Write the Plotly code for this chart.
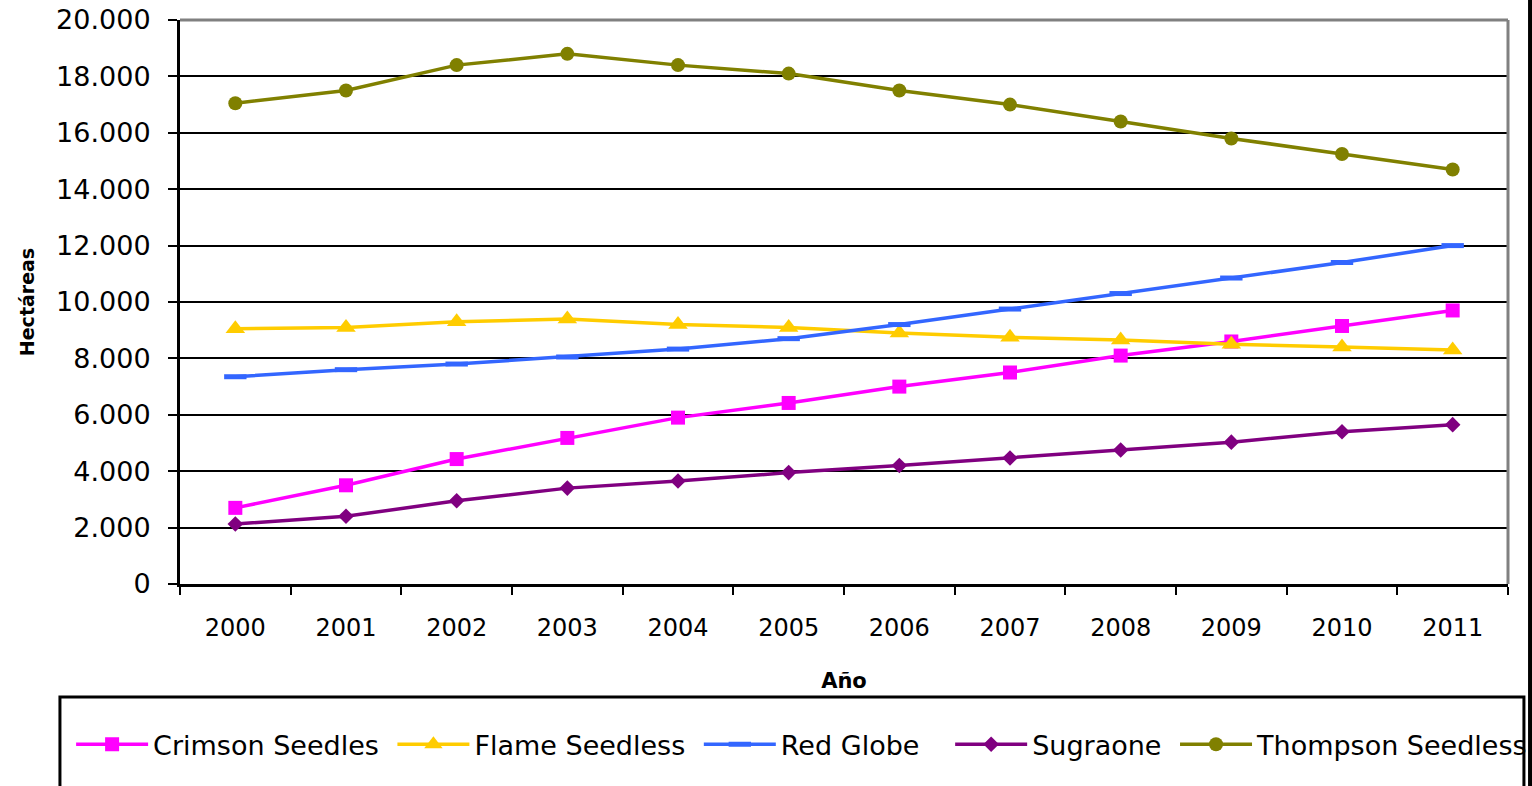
import plotly.graph_objects as go

years = ["2000", "2001", "2002", "2003", "2004", "2005", "2006", "2007", "2008", "2009", "2010", "2011"]
crimson = [2700, 3500, 4430, 5180, 5900, 6420, 7000, 7500, 8100, 8600, 9150, 9700]
flame = [9050, 9100, 9300, 9400, 9200, 9100, 8900, 8750, 8650, 8500, 8400, 8300]
red_globe = [7350, 7600, 7800, 8050, 8330, 8700, 9200, 9750, 10300, 10850, 11400, 12000]
sugraone = [2130, 2400, 2950, 3400, 3650, 3950, 4200, 4470, 4750, 5030, 5400, 5650]
thompson = [17050, 17500, 18400, 18800, 18400, 18100, 17500, 17000, 16400, 15800, 15250, 14700]

y_ticks = [0, 2000, 4000, 6000, 8000, 10000, 12000, 14000, 16000, 18000, 20000]
y_tick_labels = ["0", "2.000", "4.000", "6.000", "8.000", "10.000", "12.000", "14.000", "16.000", "18.000", "20.000"]

FONT = "DejaVu Sans"
NB = "\u00a0"

series = [
    ("Crimson Seedles", NB, crimson, "#FF00FF", dict(symbol="square", size=14)),
    ("Flame Seedless", NB, flame, "#FFCC00", dict(symbol="triangle-up", size=17)),
    ("Red Globe", NB * 3, red_globe, "#3366FF", dict(symbol="line-ew-open", size=16, line=dict(width=5, color="#3366FF"))),
    ("Sugraone", NB, sugraone, "#800080", dict(symbol="diamond", size=12)),
    ("Thompson Seedless", "", thompson, "#808000", dict(symbol="circle", size=14)),
]

fig = go.Figure()
for name, pad, vals, color, mk in series:
    m = dict(color=color)
    m.update(mk)
    fig.add_trace(go.Scatter(x=years, y=vals, name=name + pad, mode="lines+markers",
                             line=dict(color=color, width=3.5), marker=m, cliponaxis=False))

fig.update_layout(
    width=1532, height=786,
    margin=dict(l=180, r=24, t=20, b=202, autoexpand=False),
    paper_bgcolor="white", plot_bgcolor="white",
    font=dict(family=FONT, color="black"),
    showlegend=True,
    legend=dict(orientation="h", x=-0.082, xanchor="left", y=-0.285, yanchor="middle",
                font=dict(family=FONT, size=27, color="black"), borderwidth=0,
                bgcolor="rgba(0,0,0,0)", itemwidth=72, tracegroupgap=0),
    xaxis=dict(type="category", tickson="boundaries", ticks="outside", ticklen=8, tickwidth=2,
               tickcolor="black", showline=True, linecolor="black", linewidth=3, automargin=False,
               showgrid=False, tickfont=dict(size=24, family=FONT), ticklabelstandoff=20,
               title=dict(text="<b>Año</b>", font=dict(size=21, family=FONT), standoff=33),
               range=[-0.5, 11.5]),
    yaxis=dict(range=[0, 20000], tickvals=y_ticks, ticktext=y_tick_labels, ticks="outside",
               ticklen=9, tickwidth=2, tickcolor="black", showline=True, linecolor="black",
               linewidth=3, showgrid=True, gridcolor="black", gridwidth=2, zeroline=False,
               automargin=False,
               tickfont=dict(size=27, family=FONT), ticklabelstandoff=12,
               title=dict(text="<b>Hectáreas</b>", font=dict(size=19, family=FONT), standoff=17)),
)

# plot-area border (top and right in grey)
fig.add_shape(type="line", xref="paper", yref="paper", x0=0, x1=1, y0=1, y1=1,
              line=dict(color="#808080", width=3), layer="above")
fig.add_shape(type="line", xref="paper", yref="paper", x0=1, x1=1, y0=0, y1=1,
              line=dict(color="#808080", width=3), layer="above")
# legend frame
fig.add_shape(type="rect", xref="paper", yref="paper", x0=-0.0904, x1=1.012, y0=-0.2004, y1=-0.40,
              line=dict(color="black", width=3), layer="above")
# outer chart border (right edge)
fig.add_shape(type="line", xref="paper", yref="paper", x0=1.0166, x1=1.0166, y0=1.1, y1=-0.4,
              line=dict(color="black", width=4), layer="above")

fig.write_html("out.html", config={"displayModeBar": False},
               post_script="document.body.style.margin='0';")
